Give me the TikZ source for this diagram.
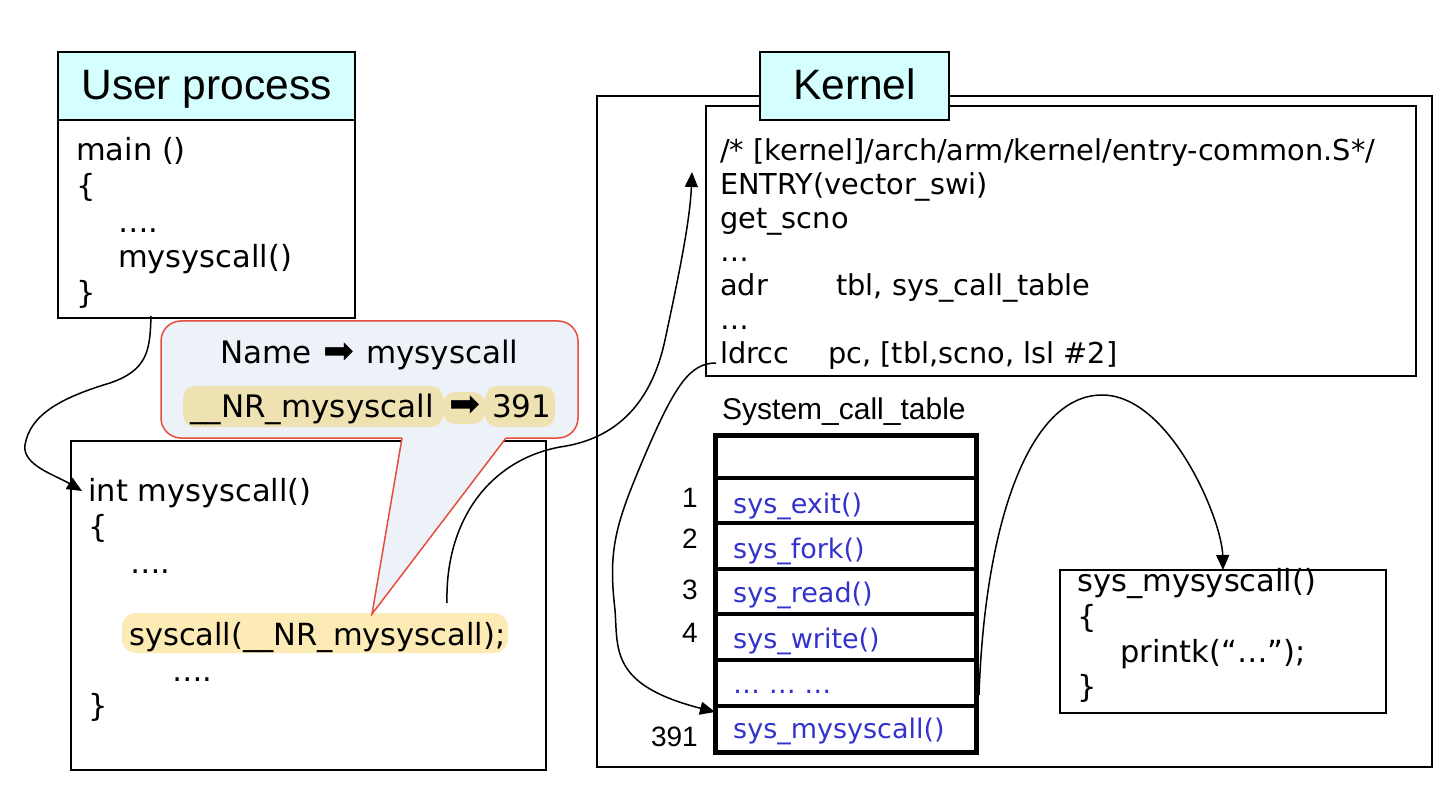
\documentclass[tikz,border=0pt]{standalone}
\usepackage{fontspec}
\setmainfont{DejaVu Sans}
\newfontfamily\arialfont{Liberation Sans}
\usetikzlibrary{arrows.meta}
\definecolor{hdrcyan}{HTML}{D5FFFF}
\definecolor{bubblefill}{HTML}{EDF1F8}
\definecolor{bubblered}{HTML}{E84C3D}
\definecolor{pilltan}{HTML}{EEE2B2}
\definecolor{hlyellow}{HTML}{FDEBB5}
\definecolor{tblblue}{HTML}{3333CC}
\begin{document}
\begin{tikzpicture}[x=1pt,y=-1pt,
  box/.style={draw, line width=2pt, inner sep=0pt, outer sep=0pt},
  hdr/.style={box, fill=hdrcyan, font=\arialfont\fontsize{42.5}{50}\selectfont, text height=30pt, text depth=2pt},
  code/.style={anchor=base west, inner sep=0pt, font=\fontsize{28.8}{34}\selectfont},
  ucode/.style={anchor=base west, inner sep=0pt, font=\fontsize{30.5}{36}\selectfont},
  tcode/.style={anchor=base west, inner sep=0pt, font=\fontsize{27}{32}\selectfont, text=tblblue},
  num/.style={anchor=base east, inner sep=0pt, font=\arialfont\fontsize{28}{32}\selectfont},
  pill/.style={fill=pilltan, rounded corners=12pt, inner sep=0pt},
  conn/.style={line width=1.5pt, -{Triangle[length=15pt,width=13pt]}},
  bubbleline/.style={draw=bubblered, line width=1.5pt},
  rowline/.style={line width=3.3pt},
  arrowglyph/.style={font=\fontsize{37}{40}\selectfont}
]
\useasboundingbox (0,0) rectangle (1454,786);

% ---------------- Kernel side ----------------
\node[box, minimum width=835pt, minimum height=671pt] (kouter) at (1014.5,431.5) {};
\node[box, minimum width=710pt, minimum height=270pt] (codebox) at (1061,241) {};
\node[hdr, minimum width=189pt, minimum height=68pt] (khdr) at (854.5,86) {Kernel};

\node[code] (c1) at (720,161) {/* [kernel]/arch/arm/kernel/entry-common.S*/};
\node[code] (c2) at (720,194.7) {ENTRY(vector\_swi)};
\node[code] (c3) at (720,228.4) {get\_scno};
\node[code] (c4) at (720,262) {…};
\node[code] (c5) at (720,295.8) {\makebox[116pt][l]{adr}tbl, sys\_call\_table};
\node[code] (c6) at (720,329.5) {…};
\node[code] (c7) at (720,363) {\makebox[108pt][l]{ldrcc}pc, [tbl,scno, lsl \#2]};

% system call table
\node[anchor=base west, inner sep=0pt, font=\arialfont\fontsize{30}{36}\selectfont] (tbllabel) at (722,419) {System\_call\_table};
\node[minimum width=261pt, minimum height=317pt, inner sep=0pt] (tbl) at (846,594) {};
\foreach \yy [count=\k] in {478,523,569,614,660,706}
  \draw[rowline] (tbl.west |- 0,\yy) -- (tbl.east |- 0,\yy);
\draw[line width=5pt] (tbl.north west) rectangle (tbl.south east);

\node[tcode] (t1) at (733,513) {sys\_exit()};
\node[tcode] (t2) at (733,558) {sys\_fork()};
\node[tcode] (t3) at (733,602) {sys\_read()};
\node[tcode] (t4) at (733,648) {sys\_write()};
\node[tcode] (t5) at (733,693) {… … …};
\node[tcode] (t6) at (733,738) {sys\_mysyscall()};

\node[num] (n1) at (698,507) {1};
\node[num] (n2) at (698,548) {2};
\node[num] (n3) at (698,599) {3};
\node[num] (n4) at (698,642) {4};
\node[num] (n391) at (698,746) {391};

% sys_mysyscall implementation
\node[box, minimum width=326pt, minimum height=143pt] (impl) at (1223,641.5) {};
\node[ucode] (i1) at (1077,591) {sys\_mysyscall()};
\node[ucode] (i2) at (1077,627) {\{};
\node[ucode] (i3) at (1120,662) {printk(“…”);};
\node[ucode] (i4) at (1077,697) {\}};

% ---------------- User side ----------------
\node[hdr, minimum width=297pt, minimum height=68pt] (uhead) at (206.5,86) {User process};
\node[box, minimum width=297pt, minimum height=198pt] (ubody) at (206.5,219) {};
\node[ucode] (u1) at (76,161) {main ()};
\node[ucode] (u2) at (76,197) {\{};
\node[ucode] (u3) at (118,233) {….};
\node[ucode] (u4) at (118,268) {mysyscall()};
\node[ucode] (u5) at (76,304) {\}};

\node[box, minimum width=475pt, minimum height=329pt] (ubox2) at (308.5,605.5) {};
\node[fill=hlyellow, rounded corners=14pt, minimum width=386pt, minimum height=40pt, inner sep=0pt] (hl) at (315,633) {};
\node[ucode] (v1) at (88,501) {int mysyscall()};
\node[ucode] (v2) at (88,537) {\{};
\node[ucode] (v3) at (130,573) {….};
\node[ucode] (v4) at (129,645) {syscall(\_\_NR\_mysyscall);};
\node[ucode] (v5) at (172,681) {….};
\node[ucode] (v6) at (88,716) {\}};

% ---------------- Callout bubble ----------------
\fill[bubblefill, rounded corners=20pt] (161,321) rectangle (578,438);
\fill[bubblefill] (402,437) -- (372,614) -- (506,437) -- cycle;
\draw[bubbleline, rounded corners=20pt] (402,438) -- (161,438) -- (161,321) -- (578,321) -- (578,438) -- (506,438);
\draw[bubbleline] (402,438) -- (372,614) -- (506,438);

\node[anchor=base, inner sep=0pt, font=\fontsize{31}{36}\selectfont] (bname) at (369.5,363) {Name\hspace{11pt}{\fontsize{37}{40}\selectfont ➡}\hspace{12pt}mysyscall};
\node[pill, minimum width=42pt, minimum height=32pt] (parr) at (464,408) {};
\node[pill, minimum width=260pt, minimum height=41pt] (pnr) at (313,406.5) {};
\node[pill, minimum width=70pt, minimum height=41pt] (pnum) at (520,406.5) {};
\node[anchor=base west, inner sep=0pt, font=\fontsize{31}{36}\selectfont] (bnr) at (190,417) {\_\_NR\_mysyscall};
\node[anchor=base west, inner sep=0pt, arrowglyph] (barr) at (449,416) {➡};
\node[anchor=base west, inner sep=0pt, font=\fontsize{31}{36}\selectfont] (bnum) at (492,417) {391};

% ---------------- Connectors ----------------
\coordinate (a1s) at (151,316);
\coordinate (a1e) at (82,491);
\draw[conn] (a1s) .. controls (150,350) and (148,370) .. (110,383)
  .. controls (60,398) and (30,415) .. (25,445)
  .. controls (22,465) and (55,475) .. (a1e);

\coordinate (a2s) at (447,603);
\coordinate (a2e) at (692,172);
\draw[conn] (a2s) .. controls (445,520) and (490,460) .. (560,447)
  .. controls (610,440) and (650,410) .. (665,340)
  .. controls (680,270) and (690,220) .. (a2e);

\coordinate (a3s) at (716,363);
\coordinate (a3e) at (715,712);
\draw[conn] (a3s) .. controls (690,363) and (675,385) .. (645,455)
  .. controls (615,525) and (608,550) .. (615,610)
  .. controls (618,650) and (610,685) .. (a3e);

\coordinate (a4s) at (979,695);
\coordinate (a4e) at (1223,570);
\draw[conn] (a4s) .. controls (985,520) and (1030,395) .. (1102,395)
  .. controls (1170,395) and (1222,520) .. (a4e);
\end{tikzpicture}
\end{document}
